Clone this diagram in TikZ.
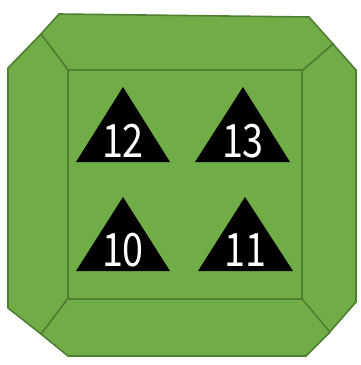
\documentclass[tikz,border=0pt]{standalone}
\usepackage{fontspec}
\newfontfamily\numfont{Noto Sans CJK JP}
\definecolor{gfill}{HTML}{70AD47}
\definecolor{gline}{HTML}{507E32}
\tikzset{
  piece/.style={fill=gfill, draw=gline, line width=1.6pt, line join=miter},
  tri/.style={fill=black, draw=none},
  num/.style={text=white, font=\numfont\fontsize{46}{46}\selectfont, inner sep=0pt, xscale=0.82}
}
\begin{document}
\begin{tikzpicture}[x=1pt,y=-1pt]
\useasboundingbox (0,0) rectangle (361,365);
% bevel pieces
\draw[piece] (59,14) -- (309,17) -- (333,44) -- (302,71) -- (68,70) -- (41,34) -- cycle;
\draw[piece] (333,44) -- (356,70) -- (356,302) -- (328,334) -- (302,299) -- (302,71) -- cycle;
\draw[piece] (68,298) -- (302,299) -- (330,332) -- (306,356) -- (68,356) -- (41,334) -- cycle;
\draw[piece] (41,34) -- (68,70) -- (68,298) -- (41,334) -- (8,308) -- (8,68) -- cycle;
\draw[piece] (68,70) rectangle (302,299);
% triangles
\fill[tri] (123,87) -- (170,162) -- (76,162) -- cycle;
\fill[tri] (243,87) -- (290,162) -- (195,162) -- cycle;
\fill[tri] (123,197) -- (170,271) -- (76,271) -- cycle;
\fill[tri] (245,197) -- (293,271) -- (198,271) -- cycle;
\node[num] (n12) at (123,141) {12};
\node[num] (n13) at (243,141) {13};
\node[num] (n10) at (123,250) {10};
\node[num] (n11) at (245,250) {11};
\end{tikzpicture}
\end{document}
